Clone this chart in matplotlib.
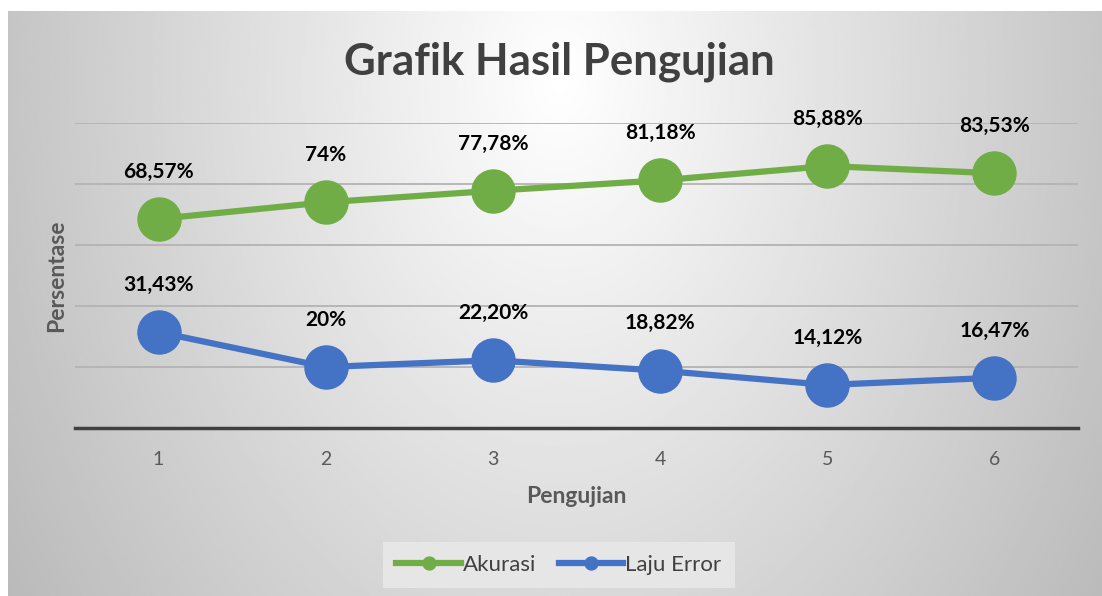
import matplotlib.pyplot as plt
import numpy as np

plt.rcParams['font.family'] = ['Lato', 'DejaVu Sans']

pengujian = [1, 2, 3, 4, 5, 6]
akurasi = [68.57, 74, 77.78, 81.18, 85.88, 83.53]
laju_error = [31.43, 20, 22.20, 18.82, 14.12, 16.47]
label_akurasi = ["68,57%", "74%", "77,78%", "81,18%", "85,88%", "83,53%"]
label_error = ["31,43%", "20%", "22,20%", "18,82%", "14,12%", "16,47%"]

W, H = 1102, 596
fig = plt.figure(figsize=(W / 100, H / 100), dpi=100)
fig.patch.set_facecolor('white')

# gradient background of the chart area
bg = fig.add_axes([8 / W, 0, 1 - 8 / W, (H - 11) / H], zorder=-5)
xx, yy = np.meshgrid(np.linspace(8, W, 400), np.linspace(11, H, 250))
r = np.sqrt(((xx - 560) / 560) ** 2 + ((yy - 80) / 800) ** 2)
v = np.clip(1.0 - 0.23 * r, 0, 1)
bg.imshow(v, cmap='gray', vmin=0, vmax=1, aspect='auto', interpolation='bilinear')
bg.axis('off')

ax = fig.add_axes([75 / W, (H - 428) / H, (1078 - 75) / W, 305 / H])
ax.patch.set_alpha(0)
ax.set_xlim(0.5, 6.5)
ax.set_ylim(0, 100)

green = '#70ad47'
blue = '#4472c4'
ax.plot(pengujian, akurasi, color=green, lw=4.5, marker='o', ms=31, label='Akurasi',
        clip_on=False, zorder=3)
ax.plot(pengujian, laju_error, color=blue, lw=4.5, marker='o', ms=31, label='Laju Error',
        clip_on=False, zorder=3)

for x, y, t in zip(pengujian, akurasi, label_akurasi):
    ax.annotate(t, (x, y), xytext=(0, 34), textcoords='offset points', ha='center',
                va='center', fontsize=15, fontweight='bold', color='black')
for x, y, t in zip(pengujian, laju_error, label_error):
    ax.annotate(t, (x, y), xytext=(0, 34), textcoords='offset points', ha='center',
                va='center', fontsize=15, fontweight='bold', color='black')

ax.set_yticks([20, 40, 60, 80, 100])
ax.yaxis.grid(True, color='#b3b3b3', lw=1.3)
ax.set_axisbelow(True)
ax.tick_params(axis='y', left=False, labelleft=False)
ax.tick_params(axis='x', bottom=False, labelsize=14, labelcolor='#595959', pad=13)
ax.set_xticks(pengujian)
for s in ['top', 'left', 'right']:
    ax.spines[s].set_visible(False)
ax.spines['bottom'].set_color('#404040')
ax.spines['bottom'].set_linewidth(2.5)

ax.set_xlabel('Pengujian', fontsize=16.5, fontweight='bold', color='#595959', labelpad=13)
ax.set_ylabel('Persentase', fontsize=16.5, fontweight='bold', color='#595959', labelpad=6)

fig.text(559 / W, 1 - 62 / H, 'Grafik Hasil Pengujian', ha='center', va='center',
         fontsize=31.5, fontweight='bold', color='#404040')

leg = fig.legend(loc='center', bbox_to_anchor=(559 / W, 1 - 565 / H), ncol=2,
                 markerscale=0.3, handlelength=2.9, fontsize=16, frameon=True,
                 fancybox=False, edgecolor='none', facecolor='#e6e6e6', framealpha=1,
                 columnspacing=1.0, handletextpad=0.1, borderpad=0.6)
for t in leg.get_texts():
    t.set_color('#404040')

fig.savefig('out.png', dpi=100)
